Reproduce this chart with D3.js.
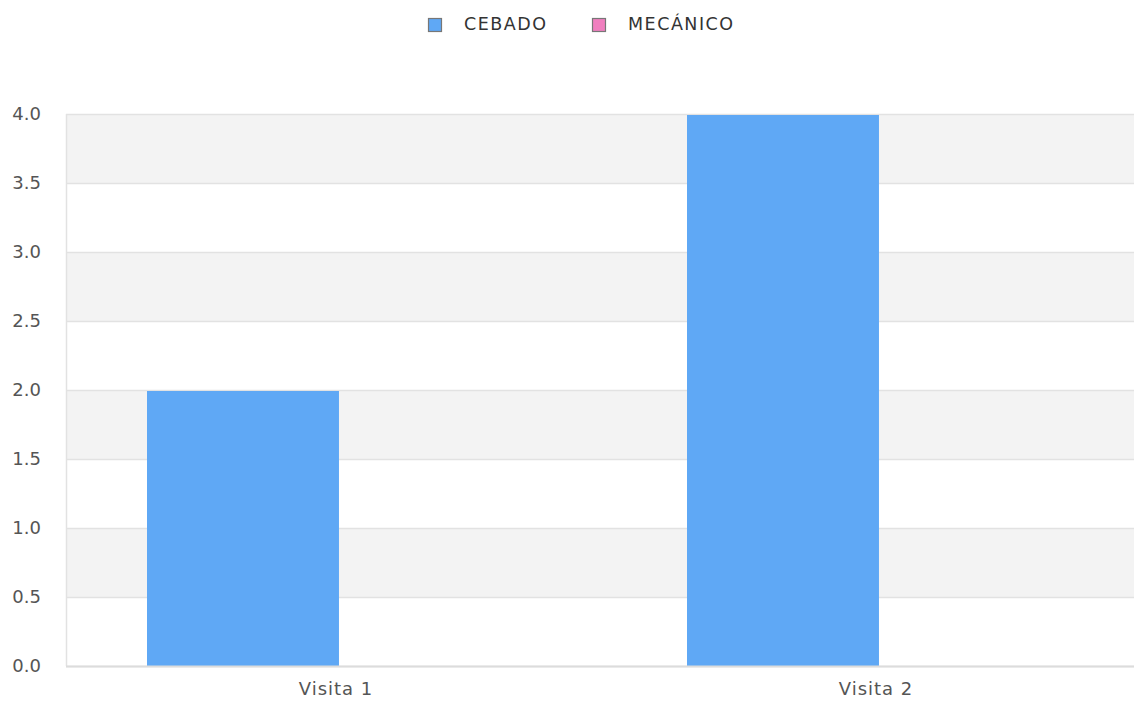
<!DOCTYPE html>
<html>
<head>
<meta charset="utf-8">
<script src="https://cdn.jsdelivr.net/npm/d3@7"></script>
<style>
  body { margin: 0; background: #fff; overflow: hidden; }
  text { font-family: "DejaVu Sans", sans-serif; }
</style>
</head>
<body>
<div id="chart"></div>
<script>
// data
var categories = ["Visita 1", "Visita 2"];
var seriesNames = ["CEBADO", "MECÁNICO"];
var cebado = [2, 4];
var mecanico = [0, 0];
var yTicks = [0, 0.5, 1, 1.5, 2, 2.5, 3, 3.5, 4];
var colors = ["#5fa8f5", "#f07fbf"];

var svgWidth = 1134;
var svgHeight = 708;
var margin = { top: 114, right: 0, bottom: 42, left: 66 };
// plot runs slightly past the right edge of the window
var chartWidth = 1080;
var chartHeight = svgHeight - margin.top - margin.bottom;

var svg = d3.select("#chart")
  .append("svg")
  .attr("width", svgWidth)
  .attr("height", svgHeight);

var chartGroup = svg.append("g")
  .attr("transform", `translate(${margin.left}, ${margin.top})`);

var x0 = d3.scaleBand()
  .domain(categories)
  .range([0, chartWidth])
  .padding(0);

var x1 = d3.scaleBand()
  .domain(seriesNames)
  .range([x0.bandwidth() * 0.15, x0.bandwidth() * 0.861])
  .padding(0);

var yScale = d3.scaleLinear()
  .domain([0, 4])
  .range([chartHeight, 0]);

// alternating bands
for (var i = 0; i < yTicks.length - 1; i++) {
  if ((yTicks.length - 2 - i) % 2 === 0) {
    chartGroup.append("rect")
      .attr("x", 0)
      .attr("y", yScale(yTicks[i + 1]))
      .attr("width", chartWidth)
      .attr("height", yScale(yTicks[i]) - yScale(yTicks[i + 1]))
      .attr("fill", "#f3f3f3");
  }
}

// gridlines
chartGroup.selectAll(".grid")
  .data(yTicks)
  .enter()
  .append("line")
  .attr("x1", 0)
  .attr("x2", chartWidth)
  .attr("y1", d => Math.round(yScale(d)) + 0.5)
  .attr("y2", d => Math.round(yScale(d)) + 0.5)
  .attr("stroke", "#e2e2e2")
  .attr("stroke-width", 1.5);

// bars
var rows = categories.map((c, i) => ({ cat: c, values: [cebado[i], mecanico[i]] }));
var groups = chartGroup.selectAll(".grp")
  .data(rows)
  .enter()
  .append("g")
  .attr("transform", d => `translate(${x0(d.cat)},0)`);

groups.selectAll("rect")
  .data(d => d.values.map((v, j) => ({ key: seriesNames[j], value: v, color: colors[j] })))
  .enter()
  .append("rect")
  .attr("x", d => x1(d.key))
  .attr("y", d => yScale(d.value) + 1)
  .attr("width", x1.bandwidth())
  .attr("height", d => Math.max(0, chartHeight - yScale(d.value) - 1))
  .attr("fill", d => d.color);

// axes lines
chartGroup.append("line")
  .attr("x1", 0.5).attr("x2", 0.5)
  .attr("y1", 0).attr("y2", chartHeight)
  .attr("stroke", "#e2e2e2").attr("stroke-width", 1.5);
chartGroup.append("line")
  .attr("x1", 0).attr("x2", chartWidth)
  .attr("y1", chartHeight + 0.5).attr("y2", chartHeight + 0.5)
  .attr("stroke", "#dcdcdc").attr("stroke-width", 2);

// y axis labels
var yAxis = d3.axisLeft(yScale).tickValues(yTicks).tickFormat(d3.format(".1f")).tickSize(0).tickPadding(25);
var yg = chartGroup.append("g").call(yAxis);
yg.select(".domain").remove();
yg.selectAll("text")
  .attr("font-family", "DejaVu Sans, sans-serif")
  .attr("font-size", "18px")
  .attr("fill", "#555");

// x axis labels
var xAxis = d3.axisBottom(x0).tickSize(0).tickPadding(16);
var xg = chartGroup.append("g")
  .attr("transform", `translate(0, ${chartHeight})`)
  .call(xAxis);
xg.select(".domain").remove();
xg.selectAll("text")
  .attr("font-family", "DejaVu Sans, sans-serif")
  .attr("font-size", "18px")
  .attr("letter-spacing", "1px")
  .attr("fill", "#555");

// legend
var legendX = [428, 592];
var legend = svg.append("g");
seriesNames.forEach(function(name, i) {
  legend.append("rect")
    .attr("x", legendX[i] + 0.5)
    .attr("y", 18.5)
    .attr("width", 13)
    .attr("height", 13)
    .attr("fill", colors[i])
    .attr("stroke", "#777")
    .attr("stroke-width", 1.2);
  legend.append("text")
    .attr("x", legendX[i] + 36)
    .attr("y", 30)
    .attr("font-size", "17.5px")
    .attr("fill", "#333")
    .attr("letter-spacing", "1.5px")
    .text(name);
});
</script>
</body>
</html>
